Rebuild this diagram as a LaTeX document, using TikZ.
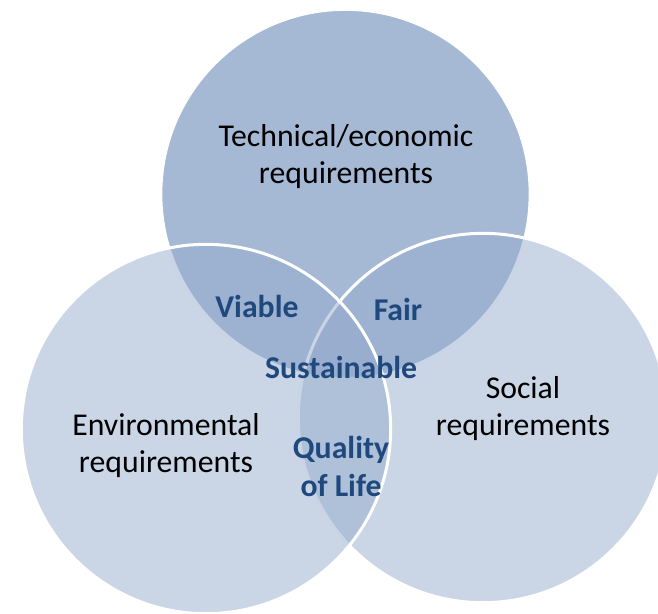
\documentclass[tikz,border=0pt]{standalone}
\usepackage{fontspec}
\setmainfont{Carlito}
\usepackage{xcolor}
\usepackage{tikz}
\usetikzlibrary{positioning}
\definecolor{VennBlue}{RGB}{149,171,205}
\definecolor{VennText}{RGB}{31,73,125}

\begin{document}
\begin{tikzpicture}[
        x=0.75pt, y=-0.75pt,
        % Style for the three sets
        vennset/.style={
            circle,
            draw=white,
            line width=2.25pt,
            fill=VennBlue,
            minimum size=277pt,
            inner sep=0pt
        },
        % Style for the set names
        setlabel/.style={
            align=center,
            text=black,
            font=\fontsize{23.8}{27.8}\selectfont
        },
        % Style for the overlap names
        overlap/.style={
            align=center,
            text=VennText,
            font=\bfseries\fontsize{23.8}{28.5}\selectfont
        }
    ]

        \useasboundingbox (0,0) rectangle (658,614);
        \clip (0,0) rectangle (658,614);

        % --- THE THREE CIRCLES ---
        \node[vennset, fill opacity=0.85] (tech) at (345.5,194) {};
        \node[vennset, fill opacity=0.5] (social) at (483,418) {};
        \node[vennset, fill opacity=0.5] (env) at (206,429) {};

        % --- SET NAMES ---
        \node[setlabel] (techtxt) at (346,157) {Technical/economic\\requirements};
        \node[setlabel] (socialtxt) at (523,409) {Social\\requirements};
        \node[setlabel] (envtxt) at (166,446) {Environmental\\requirements};

        % --- OVERLAPS ---
        \node[overlap] (viable) at (257,306) {Viable};
        \node[overlap] (fair) at (398,309) {Fair};
        \node[overlap] (sust) at (341,367) {Sustainable};
        \node[overlap] (qol) at (341,466) {Quality\\of Life};

    \end{tikzpicture}
\end{document}
